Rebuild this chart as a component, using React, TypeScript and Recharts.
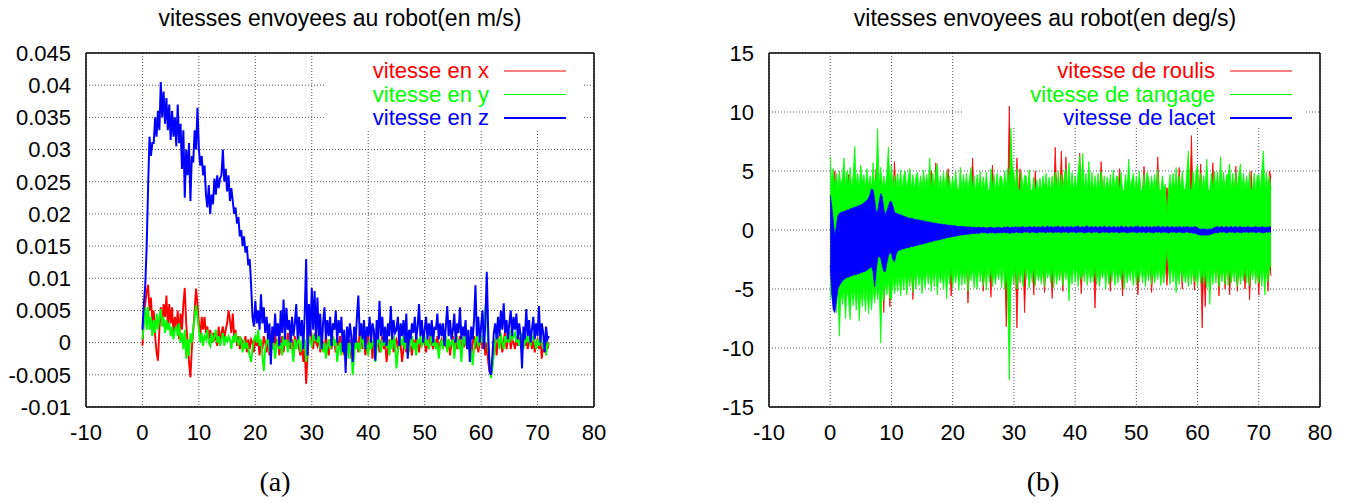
import React from 'react';
import { ComposedChart, Line, Area, XAxis, YAxis, CartesianGrid, ReferenceArea } from 'recharts';

// sampling period of the recordings (s)
const DT = 0.25;

const X_TICKS = [-10, 0, 10, 20, 30, 40, 50, 60, 70, 80];
const Y_TICKS_LIN = [-0.01, -0.005, 0, 0.005, 0.01, 0.015, 0.02, 0.025, 0.03, 0.035, 0.04, 0.045];
const Y_TICKS_ANG = [-15, -10, -5, 0, 5, 10, 15];

const TITLE_LIN = 'vitesses envoyees au robot(en m/s)';
const TITLE_ANG = 'vitesses envoyees au robot(en deg/s)';
const LABELS_LIN = ['vitesse en x', 'vitesse en y', 'vitesse en z'];
const LABELS_ANG = ['vitesse de roulis', 'vitesse de tangage', 'vitesse de lacet'];
const COLORS = ['#ff0000', '#00ff00', '#0000ff'];

// (a) linear speeds, in mm/s (converted to m/s below)
const VITESSE_X_MM = [
  -0.5, 4, 6, 8, 9, 5, 7, 3, 5, 1, -1.5, -2.8, 2, 5.5, 3, 6, 4, 7.3, 2.5, 6, 3, 5.5, 1, 4, 2, 5, 0.5, 4.5,
  2, 6, 8.5, 3, 0, -3, -5.4, -1, 2, 5, 8.4, 6, 3, 1, 4, 2, 4, 1.5, 2.5, 0.5, 2, 0, 1.5, 0.5,
  1, -0.5, 2.5, 0, 1.5, 2.5, 0.5, 2, 3, 5, 3.5, 1.5, 4.5, 1, 2, -0.5, 1, -1, 0.5, 0, -0.5, 1, -1.5, 0.5,
  -1, 0.5, 0, -1.5, 1, -0.5, 0.5, -2, 0, -1, 1, 0, -1.5, 0.5, -2, 1, 0, -1, 1.5, -0.5, 0.5, -2, 0, 1,
  -1.5, 0.5, -0.5, 1.5, 0, -1, 0.5, -2, 1, -0.5, 0.5, -1, -2, 0, -3, -1, -6.4, -2, 1, 2, 0.5, -1, 1.5, 0,
  -0.5, 1, -1.5, 0.5, 0, -1, 1, -0.5, -2, 0.5, -1, 1, 0, -1.5, 0.5, -0.5, 1, -1, 0, -2, -0.5, 1.5, -1, 0.5,
  -2.5, 0, -1, 1, 0, -1.5, 2, 0.5, -1, 0.5, -2, 0, 1, -1, 0.5, -2.5, 0, 1.5, -0.5, 0.5, -1.5, 0, 1, -1,
  0.5, -3, -1, 0.5, -0.5, 1, -1.5, 0, 0.5, -1, 1, -0.5, -3, -1, 0.5, -1.5, 0, 1, -0.5, -2, 0.5, -1, 1, 0,
  -1.5, 0.5, -0.5, 1, 0, -1.5, 0.5, -1, 1, 0, -1, 0.5, -0.5, 1, -1.5, 0, 0.5, -1, 1, -0.5, -1, 0.5, -2, 0,
  1, -0.5, 0.5, -1, 0, 1, -1.5, 0.5, -0.5, 0, 1, -1, 0.5, -2, 0, 1, -1, 0.5, -1.5, 0, 0.5, -1, 1, -2,
  0, -3, -4.5, -5, -3.5, -1, 0.5, -2, 1, -0.5, 0.5, -1.5, 0, 2, -1, 0.5, 1.5, -1, 0.5, 0, -1, 1, -0.5, 0.5,
  0, -1.5, 1, -0.5, 0.5, -1, 0, 1, -1, 0.5, -1.5, 0, 0.5, -1, 1, -2.5, 0, -1.5, 0.5, -1, 0,
];

const VITESSE_Y_MM = [
  0.5, 3, 5.5, 2, 5.6, 2, 4, 1, 3.5, 1.5, 4.5, 2, 4, 5.2, 2.5, 4, 1.5, 3.5, 2, 3, 1, 2.5, 0.5, 2, 2.5, 1, 3, 0,
  1.5, -1, 2, -2.5, 0.5, -2, 1.5, 0, 2, 4, 5.8, 4, 2, 0, 1.5, -0.5, 1, 0.5, 2, 0, -0.5, 1.5, 0, 1,
  2, 0, 1, -0.5, 0.5, 1.5, -0.5, 1, 0, 1, 0.5, -1, 1, 0, 1.5, 0.5, -0.5, 1, 0, -1.5, 0.5, -1, 0, -1,
  -2, -3, -1, 0.5, 1, 0, 2, -0.5, 0.5, -2, -4.4, -1, 0, 1, -1.5, 0.5, -1, 0, -2.5, -0.5, 0.5, -1, 0, -2,
  1, -0.5, 0.5, -1.5, 0, 1, -1, -3, 0.5, -1, 0, 1, -1.5, 0, -0.5, 0.5, -3, -1, 1.5, 0, -0.5, 1, 0.5, 1.5,
  0, 1, -1, 0.5, -1.5, 0, -2.5, -0.5, 0.5, -1, 0, 1, -0.5, 0.5, -3, -1, 0, -2, 0.5, -1, -1.5, 1, -2.5, 0,
  -1, -5, -2, 0.5, -1, 0, -1.5, 1, 0.5, -1, 0, -0.5, -2, 0.5, -1, 0, 0.5, -3, -1, 1, 0, -1.5, 0.5, -0.5,
  1, -0.5, 0, -2, 0.5, -1, 1, 0, -4, -1.5, 0, 0.5, -0.5, 1, -1, 0, 0.5, -1.5, 0, 1, -1, 0, -2, 0.5,
  0, 1, -0.5, 0, 1, -0.5, 0.5, -1, 0, 1.5, -0.5, 0.5, -1, 0, -2.5, -0.5, 0.5, -1, 0, 1, -1.5, 0.5, -0.5, 0,
  0.5, -2.5, 0, 1, -1, 0.5, -3, 0, 1, -0.5, 0.5, -1, 0, -1.5, -3.5, -1, 0.5, 1, -0.5, 0, 1, 0, 2, 5.5,
  6.6, -1, -3, -5.5, -4, -2, 0, 1, 0.5, -1, 1.5, 0, -1, 1, 0, 1.5, 0, 2, 0.5, 1, 1.5, 0, 1, -0.5,
  0.5, 1.5, -1, 0, 1, 0, 1.5, -0.5, 0.5, 1, 0, -1, 0.5, -0.5, 1, 0, -1, 0.5, -2, 0, -0.5,
];

const VITESSE_Z_MM = [
  2, 6, 9, 15, 24, 32, 29, 31, 31, 35, 32, 36, 33, 40.5, 35, 39, 34, 38, 33, 37, 31.5, 36, 32, 35, 30.5, 37, 31, 34,
  27, 33, 22.5, 30, 26, 31, 22, 29, 28, 33, 30, 36.5, 30, 27.5, 29, 26, 27.5, 23, 21, 24.5, 20, 23, 21.5, 25.5,
  23, 26, 24, 25.5, 26, 30, 25, 27, 23.5, 26, 22, 24, 22, 20, 21, 18.5, 19.5, 16.5, 17.5, 15, 16.5, 14, 15, 12,
  13, 9, 4, 2.5, 6.5, 3, 5, 2, 7.5, 3, 5.5, 1.5, 4, 0.5, 3, -3.4, 2.5, 0, 4.5, 1, 3, -0.5, 5, 1.5,
  6.7, 0.5, 5.4, 2, 3.5, 0, 4, 1, 3, 6, 0.5, 4, 1, 3.5, -1, 4.5, 13, -2, 6, 1, 8.5, 2, 8, 0.5,
  7, 1, 4.5, -1, 3, 5.5, 0.5, 3.5, 1, 4, -0.5, 3, 2, 5, 0, 3.5, 1.5, 4, -1.5, 2, -4.7, 2.5, 0, 3,
  1, -3, 2.5, 0, 4, 7.3, 1, 3, 0.5, 3.5, -1, 2.5, 1, 4, 0, 3, 2, -2.8, 3.5, 0.5, 6.5, 1, 4, 0,
  2.5, -0.5, 3, 1, 5.7, 0.5, 3.5, 1.5, 2, 4, -0.5, 3, 1, 3.5, 0, 4.5, -2.5, 2, 0.5, 3, 1.5, 4, 0.5, 2.5,
  6, 1, 3.5, 0, 2, 4, 0.5, 3, 1, 3.5, 0, 2.5, 2, 4.5, 0.5, 3, 1, 3, -0.5, 2.5, 5.7, 1, 3.5, 0.5,
  2, 4.5, 0, 3, 1.5, 5.5, 0.5, 2.5, 1, 3.5, -1, 2, -3, 2.5, 0.5, 3.5, 8.9, 1, 4, 0, 2.5, 5, -1, 3,
  11, 2, -4.5, -5, -2, 1.5, 3, 0.5, 4, 1, 5, 2, 6.1, 1.5, 3.5, 0.5, 3, 5, 1, 4, 2, 4.5, 0.5, 3,
  1, -4, 2.5, 0.5, 5.2, 1, 3.5, 0, 2, 4, 0.5, 3, 1, 5.7, 0, 3, 1.5, -1.5, 2.5, 0.5, 1,
];

// (b) angular speeds (deg/s): envelope of each fast-oscillating signal (high / low)
const ROULIS_HAUT = [
  3.0, 2.8, 3.1, 5.0, 3.0, 2.9, 3.1, 2.8, 3.0, 2.9, 3.1, 3.0, 4.7, 2.9, 3.0, 2.8, 3.1, 2.9, 3.0, 2.8, 3.0, 3.1, 2.9, 3.0, 2.8, 3.0, 3.1, 2.9,
  3.0, 2.8, 5.2, 3.0, 2.9, 3.1, 3.0, 2.8, 3.0, 2.9, 3.1, 3.0, 2.8, 3.0, 5.8, 2.9, 3.0, 3.1, 2.9, 2.8, 3.0, 2.9, 3.1, 3.0,
  2.8, 3.0, 2.9, 3.1, 3.0, 2.8, 3.0, 2.9, 3.1, 3.0, 2.8, 3.0, 2.9, 3.0, 5.0, 2.8, 3.0, 5.7, 2.9, 3.1, 2.8, 3.0, 2.9, 3.1,
  3.0, 5.2, 2.8, 3.0, 2.9, 3.1, 3.0, 2.8, 3.0, 2.9, 3.1, 3.0, 2.8, 3.0, 2.9, 3.1, 3.0, 6.1, 2.9, 2.8, 3.0, 2.9, 3.1, 3.0,
  2.8, 3.0, 2.9, 3.1, 3.0, 2.9, 5.5, 3.0, 2.8, 3.1, 3.0, 2.9, 3.0, 2.8, 3.1, 3.0, 2.9, 10.5, 3.0, 2.8, 3.0, 2.9, 6.1, 3.0,
  5.2, 3.0, 2.9, 3.1, 3.0, 2.8, 3.1, 3.0, 2.9, 3.0, 5.0, 3.1, 3.0, 2.8, 3.0, 2.9, 3.1, 3.0, 2.8, 3.0, 2.9, 3.1, 3.0, 7.0,
  3.0, 2.8, 3.1, 6.7, 3.0, 2.9, 6.2, 3.0, 2.8, 3.0, 2.9, 3.1, 3.0, 2.9, 3.0, 6.5, 2.8, 3.0, 3.1, 2.9, 3.0, 2.8, 3.0, 3.1,
  2.9, 3.0, 2.8, 3.0, 3.1, 5.8, 3.0, 2.9, 3.0, 2.8, 3.1, 3.0, 2.9, 3.0, 2.8, 3.1, 3.0, 5.2, 2.9, 3.0, 2.8, 3.1, 3.0, 2.9,
  3.0, 2.8, 3.1, 3.0, 2.9, 3.0, 2.8, 3.1, 3.0, 5.4, 2.9, 3.0, 2.8, 3.0, 3.1, 2.9, 3.0, 2.9, 6.2, 3.0, 2.8, 3.1, 3.0, 2.9,
  3.6, 2.9, 3.0, 2.8, 3.0, 2.9, 3.1, 3.0, 5.3, 2.8, 3.0, 2.9, 3.1, 3.0, 2.9, 3.0, 8.0, 2.8, 3.0, 3.1, 2.9, 3.0, 5.6, 2.8,
  3.0, 2.9, 3.1, 3.0, 2.8, 3.0, 5.7, 2.9, 3.0, 3.1, 2.8, 3.0, 2.9, 3.0, 3.1, 2.8, 3.0, 2.9, 3.0, 3.1, 2.8, 5.4, 2.9, 3.0,
  3.0, 2.8, 3.1, 2.9, 3.0, 2.9, 3.0, 5.0, 2.8, 3.0, 3.1, 2.9, 3.0, 2.8, 3.0, 2.9, 3.1, 3.0, 2.9, 5.0, 4.5,
];

const ROULIS_BAS = [
  -3.0, -2.8, -3.1, -2.9, -3.0, -2.9, -2.8, -3.1, -2.9, -3.0, -2.8, -3.0, -3.1, -2.9, -3.0, -2.8, -3.0, -2.9, -3.1, -3.0, -2.8, -3.0, -2.9, -3.1, -3.0, -2.8, -3.0, -2.9,
  -3.1, -3.0, -2.8, -3.0, -2.9, -3.1, -3.0, -7.0, -3.0, -2.9, -2.8, -6.5, -3.0, -2.9, -3.1, -3.0, -2.8, -3.0, -2.9, -3.1, -3.0, -2.8, -3.0, -2.9,
  -3.1, -3.0, -5.9, -2.9, -2.8, -3.0, -2.9, -3.0, -3.1, -2.9, -3.0, -2.8, -3.0, -2.9, -3.1, -3.0, -2.8, -3.0, -2.9, -3.0, -3.1, -2.9, -3.0, -2.8,
  -3.0, -2.9, -2.8, -5.6, -3.0, -2.9, -3.0, -2.8, -2.9, -3.0, -2.8, -2.9, -2.8, -2.9, -6.2, -2.9, -2.9, -2.8, -3.0, -2.9, -2.9, -2.8, -2.9, -2.8,
  -5.2, -2.9, -2.8, -2.9, -2.9, -5.7, -2.8, -2.9, -2.8, -2.9, -2.8, -2.9, -2.8, -2.9, -2.8, -8.2, -2.9, -2.8, -2.9, -2.8, -2.9, -2.8, -8.3, -2.9,
  -2.8, -2.9, -2.8, -7.0, -2.9, -2.8, -2.9, -2.8, -2.8, -5.5, -2.9, -2.8, -2.9, -2.8, -2.9, -2.8, -5.3, -2.9, -2.8, -2.9, -2.8, -5.8, -2.9, -2.8,
  -2.9, -2.8, -2.9, -2.8, -5.2, -2.9, -2.8, -2.9, -2.8, -2.9, -2.8, -2.9, -2.8, -2.9, -2.8, -2.9, -5.4, -2.8, -2.9, -2.8, -2.9, -2.8, -2.9, -2.8,
  -2.9, -6.6, -2.8, -2.9, -2.8, -2.9, -2.8, -2.9, -2.8, -2.9, -2.8, -5.2, -2.9, -2.8, -2.9, -2.8, -2.9, -2.8, -2.9, -5.6, -2.8, -2.9, -2.8, -2.9,
  -2.8, -2.9, -2.8, -2.9, -2.8, -5.5, -2.9, -2.8, -2.9, -2.8, -2.9, -2.8, -2.9, -2.8, -5.3, -2.9, -2.8, -2.9, -2.8, -2.9, -2.8, -2.9, -2.8, -2.9,
  -4.7, -2.9, -2.8, -2.9, -2.8, -2.9, -2.8, -2.9, -2.8, -2.9, -5.0, -2.8, -2.9, -2.8, -2.9, -2.8, -2.9, -2.8, -5.1, -2.9, -2.8, -2.9, -2.8, -8.3,
  -2.9, -6.5, -2.8, -2.9, -2.8, -2.9, -2.8, -2.9, -2.8, -2.9, -5.6, -2.8, -2.9, -2.8, -5.0, -2.9, -2.8, -5.5, -2.9, -2.8, -2.9, -2.8, -5.2, -2.9,
  -2.8, -2.9, -2.8, -5.0, -2.9, -2.8, -5.9, -2.9, -2.8, -2.9, -2.8, -2.9, -5.5, -2.8, -2.9, -2.8, -2.9, -2.8, -5.2, -2.9, -3.9,
];

const TANGAGE_HAUT = [
  6.2, 3.8, 5.2, 3.6, 4.8, 3.5, 5.0, 3.7, 4.5, 6.1, 3.6, 5.0, 3.8, 5.3, 3.5, 4.6, 7.1, 3.7, 4.8, 3.5, 5.5, 3.9, 4.7, 3.6, 5.2, 3.6, 4.6, 3.5,
  5.7, 3.8, 4.5, 8.6, 3.8, 5.3, 3.5, 4.6, 3.6, 4.7, 7.0, 3.8, 5.5, 3.6, 4.6, 3.5, 4.8, 3.6, 5.1, 3.4, 4.6, 5.0, 3.4, 4.5,
  5.2, 3.5, 4.7, 3.4, 4.5, 4.9, 3.4, 4.6, 3.5, 5.1, 3.6, 4.7, 3.6, 6.1, 3.4, 4.8, 3.5, 5.0, 5.6, 3.4, 4.6, 3.4, 4.9, 3.5,
  5.0, 3.4, 4.6, 3.3, 4.5, 3.4, 5.0, 3.5, 3.4, 5.3, 3.3, 4.7, 3.5, 4.8, 3.3, 4.5, 5.3, 3.4, 4.6, 3.3, 4.7, 3.5, 5.0, 3.3,
  4.5, 3.4, 4.9, 3.3, 3.4, 5.2, 3.5, 4.7, 3.3, 4.8, 3.4, 4.6, 4.5, 3.4, 5.0, 3.5, 5.2, 3.6, 8.6, 5.4, 4.8, 3.5, 5.2, 3.4,
  3.4, 4.9, 3.3, 4.6, 4.6, 3.3, 5.1, 3.4, 3.3, 4.5, 3.2, 4.2, 3.2, 4.4, 3.3, 4.6, 3.4, 4.8, 3.3, 4.5, 3.3, 4.6, 3.4, 4.9,
  3.4, 5.0, 3.3, 4.7, 3.3, 4.8, 5.2, 3.4, 5.7, 3.4, 4.9, 3.3, 4.6, 3.4, 5.0, 6.3, 3.5, 6.5, 3.3, 4.8, 3.4, 5.8, 3.3, 4.9,
  3.3, 4.6, 3.4, 4.8, 3.4, 5.0, 3.3, 4.6, 3.2, 4.5, 3.4, 4.7, 3.3, 5.1, 3.4, 4.6, 4.5, 3.3, 4.9, 3.4, 3.3, 4.7, 3.4, 6.0,
  3.5, 4.2, 4.8, 3.3, 4.6, 3.3, 5.0, 3.4, 3.3, 4.7, 3.4, 4.9, 4.4, 3.3, 4.6, 3.4, 4.7, 3.3, 5.1, 3.4, 3.3, 4.6, 3.4, 3.9,
  1.2, 3.4, 4.7, 3.3, 4.8, 3.4, 5.3, 3.3, 4.6, 3.4, 5.0, 3.5, 3.4, 4.8, 6.7, 3.5, 3.3, 5.0, 3.4, 4.9, 5.5, 3.4, 4.8, 3.3,
  4.6, 3.5, 6.0, 3.4, 3.3, 4.8, 3.4, 5.0, 3.4, 4.9, 3.3, 6.2, 3.5, 4.9, 3.4, 4.7, 4.6, 5.6, 3.4, 4.8, 3.3, 4.9, 3.5, 4.7,
  5.6, 3.3, 4.8, 3.4, 4.6, 3.4, 4.9, 3.4, 3.5, 4.8, 3.3, 4.6, 4.7, 3.4, 5.0, 6.7, 3.5, 4.9, 3.3, 4.6, 3.4,
];

const TANGAGE_BAS = [
  -5.9, -4.6, -6.2, -4.8, -7.0, -5.0, -9.0, -5.2, -6.3, -4.9, -7.5, -5.1, -6.0, -7.6, -4.8, -6.4, -5.0, -6.8, -4.9, -7.7, -5.1, -6.5, -4.8, -6.9, -4.9, -7.1, -5.0, -6.8,
  -4.8, -6.2, -4.6, -5.9, -4.7, -9.6, -4.5, -6.0, -4.4, -5.5, -4.2, -5.8, -5.9, -4.0, -5.4, -3.9, -5.2, -3.8, -5.6, -3.7, -5.1, -3.6, -5.5, -3.8,
  -4.8, -3.5, -5.3, -3.6, -5.0, -3.4, -4.7, -3.7, -5.4, -3.5, -4.9, -3.3, -4.6, -3.5, -5.2, -3.4, -4.8, -3.2, -5.5, -3.5, -4.5, -3.6, -5.0, -3.3,
  -5.8, -3.4, -4.6, -3.2, -4.9, -3.5, -4.5, -3.1, -5.1, -3.3, -4.7, -3.4, -4.6, -3.0, -5.2, -3.5, -4.3, -3.2, -4.9, -3.4, -5.0, -3.1, -4.4, -3.3,
  -4.7, -3.4, -5.1, -3.0, -4.4, -3.2, -4.8, -3.5, -4.6, -3.3, -4.2, -3.1, -4.9, -3.0, -5.0, -3.4, -6.0, -12.7, -4.8, -3.5, -4.6, -3.1, -5.0, -3.3,
  -4.5, -3.4, -4.8, -3.0, -4.2, -3.2, -4.9, -3.4, -4.5, -3.0, -4.7, -3.3, -4.3, -3.5, -4.6, -3.1, -4.8, -3.2, -4.1, -3.4, -4.5, -3.0, -4.9, -3.3,
  -4.6, -3.4, -4.3, -3.1, -4.7, -3.2, -4.2, -3.3, -6.0, -3.4, -4.6, -3.0, -4.4, -3.1, -4.8, -3.5, -4.2, -3.3, -4.4, -3.0, -4.7, -3.2, -4.5, -3.4,
  -4.4, -3.0, -4.6, -3.3, -4.8, -3.4, -4.1, -3.1, -5.0, -3.2, -4.6, -3.4, -4.4, -3.0, -4.7, -3.3, -4.5, -3.5, -4.2, -3.1, -5.0, -3.2, -4.5, -3.4,
  -4.3, -3.1, -4.7, -3.2, -4.6, -3.4, -4.4, -3.0, -4.5, -3.2, -4.8, -3.3, -4.3, -3.0, -4.6, -3.4, -4.5, -3.3, -4.2, -3.1, -4.7, -3.4, -4.5, -3.2,
  -1.5, -3.3, -4.6, -3.0, -4.4, -3.2, -5.3, -3.4, -4.6, -3.0, -4.4, -3.3, -4.5, -3.4, -4.8, -3.1, -4.6, -3.2, -4.4, -3.5, -4.8, -3.0, -4.5, -3.3,
  -4.6, -3.4, -4.9, -3.1, -6.3, -3.3, -4.6, -3.2, -4.5, -3.0, -4.8, -3.4, -4.4, -3.3, -4.6, -3.1, -4.7, -3.2, -4.5, -3.4, -4.4, -3.0, -4.8, -3.3,
  -4.6, -3.4, -4.3, -3.1, -4.5, -3.2, -4.7, -3.3, -4.2, -3.0, -4.6, -3.4, -4.5, -3.3, -4.8, -3.1, -5.5, -3.3, -4.4, -3.2, -3.0,
];

const LACET_HAUT = [
  2.9, 2.0, 0.7, -0.6, 0.3, 1.2, 1.4, 1.5, 1.5, 1.6, 1.6, 1.7, 1.7, 1.8, 1.8, 1.9, 1.9, 2.0, 2.0, 2.1, 2.1, 2.2, 2.3, 2.4, 2.5, 2.7, 3.0, 3.5,
  3.4, 2.6, 1.5, 1.6, 2.4, 3.1, 2.8, 1.8, 1.3, 1.6, 2.0, 2.4, 2.4, 2.0, 1.5, 1.4, 1.4, 1.3, 1.3, 1.2, 1.2, 1.1, 1.1, 1.0,
  1.0, 1.0, 0.95, 0.9, 0.9, 0.85, 0.85, 0.8, 0.8, 0.75, 0.75, 0.7, 0.7, 0.65, 0.65, 0.6, 0.6, 0.55, 0.55, 0.5, 0.5, 0.5, 0.45, 0.45,
  0.45, 0.4, 0.4, 0.4, 0.35, 0.35, 0.35, 0.3, 0.3, 0.3, 0.3, 0.3, 0.25, 0.25, 0.25, 0.25, 0.25, 0.2, 0.25, 0.2, 0.2, 0.25, 0.2, 0.2,
  0.25, 0.2, 0.15, 0.2, 0.2, 0.25, 0.2, 0.15, 0.2, 0.2, 0.25, 0.2, 0.15, 0.2, 0.25, 0.2, 0.3, 0.2, 0.2, 0.25, 0.2, 0.3, 0.2, 0.25,
  0.2, 0.25, 0.3, 0.2, 0.25, 0.2, 0.3, 0.25, 0.2, 0.3, 0.25, 0.2, 0.3, 0.2, 0.25, 0.3, 0.2, 0.25, 0.35, 0.2, 0.3, 0.25, 0.2, 0.3,
  0.25, 0.35, 0.2, 0.25, 0.3, 0.2, 0.25, 0.3, 0.2, 0.3, 0.25, 0.2, 0.3, 0.25, 0.35, 0.2, 0.25, 0.3, 0.2, 0.3, 0.35, 0.2, 0.25, 0.3,
  0.2, 0.3, 0.25, 0.2, 0.3, 0.25, 0.2, 0.35, 0.25, 0.2, 0.3, 0.25, 0.2, 0.3, 0.25, 0.2, 0.3, 0.2, 0.35, 0.25, 0.2, 0.3, 0.25, 0.2,
  0.3, 0.25, 0.2, 0.3, 0.25, 0.35, 0.2, 0.25, 0.3, 0.2, 0.25, 0.3, 0.2, 0.3, 0.2, 0.25, 0.3, 0.2, 0.35, 0.25, 0.2, 0.3, 0.25, 0.2,
  0.3, 0.25, 0.2, 0.3, 0.25, 0.2, 0.3, 0.2, 0.3, 0.25, 0.2, 0.3, 0.2, 0.3, 0.25, 0.2, 0.25, 0.2, 0.3, 0.25, 0.2, 0.1, 0.05, 0.1,
  0.05, 0.1, 0.0, 0.05, 0.1, 0.05, 0.15, 0.2, 0.25, 0.3, 0.2, 0.25, 0.3, 0.2, 0.25, 0.3, 0.2, 0.25, 0.3, 0.2, 0.25, 0.3, 0.2, 0.25,
  0.3, 0.2, 0.25, 0.2, 0.25, 0.3, 0.2, 0.25, 0.2, 0.25, 0.3, 0.2, 0.25, 0.2, 0.3, 0.25, 0.2, 0.25, 0.2, 0.3, 0.2,
];

const LACET_BAS = [
  -3.0, -5.5, -6.8, -7.0, -6.0, -5.0, -4.7, -4.5, -4.3, -4.2, -4.1, -4.0, -4.0, -3.9, -3.9, -3.8, -3.8, -3.8, -3.7, -3.7, -3.6, -3.6, -3.5, -3.5, -3.4, -3.3, -3.2, -3.1,
  -3.5, -4.8, -3.5, -2.4, -2.2, -2.4, -3.0, -3.5, -3.5, -2.8, -2.2, -1.9, -2.0, -2.5, -2.7, -2.1, -1.8, -1.7, -1.7, -1.6, -1.6, -1.55, -1.5, -1.5,
  -1.45, -1.4, -1.4, -1.35, -1.3, -1.3, -1.25, -1.2, -1.2, -1.15, -1.1, -1.1, -1.05, -1.0, -1.0, -0.95, -0.9, -0.9, -0.85, -0.85, -0.8, -0.75, -0.75, -0.7,
  -0.65, -0.65, -0.6, -0.6, -0.55, -0.55, -0.5, -0.5, -0.45, -0.45, -0.4, -0.4, -0.4, -0.35, -0.35, -0.35, -0.3, -0.3, -0.3, -0.3, -0.25, -0.3, -0.25, -0.2,
  -0.25, -0.2, -0.25, -0.3, -0.2, -0.25, -0.2, -0.25, -0.3, -0.2, -0.25, -0.2, -0.25, -0.2, -0.2, -0.25, -0.2, -0.3, -0.25, -0.2, -0.25, -0.2, -0.15, -0.25,
  -0.2, -0.25, -0.2, -0.15, -0.2, -0.15, -0.25, -0.2, -0.15, -0.2, -0.2, -0.25, -0.2, -0.15, -0.2, -0.15, -0.2, -0.25, -0.15, -0.2, -0.15, -0.2, -0.25, -0.15,
  -0.2, -0.15, -0.2, -0.25, -0.15, -0.2, -0.15, -0.2, -0.25, -0.15, -0.2, -0.15, -0.2, -0.25, -0.15, -0.2, -0.15, -0.2, -0.25, -0.2, -0.2, -0.15, -0.2, -0.25,
  -0.15, -0.2, -0.15, -0.2, -0.25, -0.2, -0.15, -0.2, -0.2, -0.15, -0.25, -0.2, -0.15, -0.2, -0.2, -0.15, -0.2, -0.25, -0.15, -0.2, -0.15, -0.2, -0.25, -0.2,
  -0.2, -0.15, -0.2, -0.15, -0.25, -0.2, -0.15, -0.2, -0.2, -0.15, -0.25, -0.2, -0.15, -0.2, -0.2, -0.25, -0.2, -0.15, -0.2, -0.15, -0.25, -0.2, -0.15, -0.2,
  -0.2, -0.25, -0.2, -0.15, -0.2, -0.15, -0.25, -0.2, -0.15, -0.2, -0.2, -0.25, -0.2, -0.15, -0.2, -0.25, -0.2, -0.3, -0.25, -0.3, -0.35, -0.4, -0.45, -0.4,
  -0.45, -0.4, -0.45, -0.4, -0.4, -0.35, -0.3, -0.25, -0.2, -0.25, -0.2, -0.15, -0.2, -0.15, -0.2, -0.25, -0.2, -0.15, -0.2, -0.15, -0.25, -0.2, -0.15, -0.2,
  -0.2, -0.25, -0.15, -0.2, -0.15, -0.2, -0.2, -0.15, -0.2, -0.15, -0.25, -0.2, -0.15, -0.2, -0.2, -0.25, -0.2, -0.15, -0.2, -0.15, -0.2,
];

const linData = VITESSE_Z_MM.map((_, i) => ({
  t: i * DT,
  vx: VITESSE_X_MM[i] / 1000,
  vy: VITESSE_Y_MM[i] / 1000,
  vz: VITESSE_Z_MM[i] / 1000,
}));

const angData = TANGAGE_HAUT.map((_, i) => ({
  t: i * DT,
  roulis: [ROULIS_BAS[i], ROULIS_HAUT[i]],
  tangage: [TANGAGE_BAS[i], TANGAGE_HAUT[i]],
  lacet: [LACET_BAS[i], LACET_HAUT[i]],
}));

const SANS = '"Liberation Sans", Arial, Helvetica, sans-serif';
const TICK_STYLE = { fontSize: 22, fill: '#000', fontFamily: SANS };
const FRAME = { stroke: '#000', strokeWidth: 1.5 };

function frameAxes(xDomain: number[], yDomain: number[], yTicks: number[]) {
  return [
    <XAxis key="xb" xAxisId="xb" type="number" dataKey="t" domain={xDomain} ticks={X_TICKS} mirror tick={false} tickSize={5} axisLine={FRAME} tickLine={{ stroke: '#000' }} />,
    <XAxis key="xt" xAxisId="xt" orientation="top" type="number" dataKey="t" domain={xDomain} ticks={X_TICKS} mirror tick={false} tickSize={5} axisLine={FRAME} tickLine={{ stroke: '#000' }} />,
    <YAxis key="yl" yAxisId="yl" type="number" domain={yDomain} ticks={yTicks} mirror tick={false} tickSize={5} axisLine={FRAME} tickLine={{ stroke: '#000' }} />,
    <YAxis key="yr" yAxisId="yr" orientation="right" type="number" domain={yDomain} ticks={yTicks} mirror tick={false} tickSize={5} axisLine={FRAME} tickLine={{ stroke: '#000' }} />,
  ];
}

export default function App() {
  return (
    <div style={{ position: 'absolute', left: 0, top: 0, width: 1356, height: 503, background: '#fff', overflow: 'hidden' }}>
      <div style={{ position: 'absolute', left: 0, top: 0 }}>
        <ComposedChart width={678} height={503} data={linData} margin={{ top: 53, right: 84, bottom: 66, left: 6 }}>
          <CartesianGrid xAxisId="x" yAxisId="y" stroke="#555" strokeDasharray="1 2" />
          <XAxis xAxisId="x" type="number" dataKey="t" domain={[-10, 80]} ticks={X_TICKS} interval={0} tickLine={false} axisLine={false} tickSize={0} tickMargin={17} height={30} tick={TICK_STYLE} />
          <YAxis yAxisId="y" type="number" domain={[-0.01, 0.045]} ticks={Y_TICKS_LIN} interval={0} tickLine={false} axisLine={false} tickSize={0} tickMargin={15} width={80} tick={TICK_STYLE} />
          {frameAxes([-10, 80], [-0.01, 0.045], Y_TICKS_LIN)}
          <ReferenceArea xAxisId="x" yAxisId="y" x1={32.2} x2={78.2} y1={0.0331} y2={0.045} fill="#fff" fillOpacity={1} stroke="none" />
          <Line xAxisId="x" yAxisId="y" dataKey="vx" stroke={COLORS[0]} strokeWidth={1.9} dot={false} activeDot={false} isAnimationActive={false} type="linear" />
          <Line xAxisId="x" yAxisId="y" dataKey="vy" stroke={COLORS[1]} strokeWidth={1.9} dot={false} activeDot={false} isAnimationActive={false} type="linear" />
          <Line xAxisId="x" yAxisId="y" dataKey="vz" stroke={COLORS[2]} strokeWidth={2} dot={false} activeDot={false} isAnimationActive={false} type="linear" />
        </ComposedChart>
      </div>
      <div style={{ position: 'absolute', left: 678, top: 0 }}>
        <ComposedChart width={678} height={503} data={angData} margin={{ top: 53, right: 36, bottom: 66, left: 11 }}>
          <CartesianGrid xAxisId="x" yAxisId="y" stroke="#555" strokeDasharray="1 2" />
          <XAxis xAxisId="x" type="number" dataKey="t" domain={[-10, 80]} ticks={X_TICKS} interval={0} tickLine={false} axisLine={false} tickSize={0} tickMargin={17} height={30} tick={TICK_STYLE} />
          <YAxis yAxisId="y" type="number" domain={[-15, 15]} ticks={Y_TICKS_ANG} interval={0} tickLine={false} axisLine={false} tickSize={0} tickMargin={15} width={80} tick={TICK_STYLE} />
          {frameAxes([-10, 80], [-15, 15], Y_TICKS_ANG)}
          <ReferenceArea xAxisId="x" yAxisId="y" x1={21.6} x2={77.6} y1={8.7} y2={15} fill="#fff" fillOpacity={1} stroke="none" />
          <Area xAxisId="x" yAxisId="y" dataKey="roulis" type="linear" stroke={COLORS[0]} strokeWidth={0.8} fill={COLORS[0]} fillOpacity={1} dot={false} activeDot={false} isAnimationActive={false} />
          <Area xAxisId="x" yAxisId="y" dataKey="tangage" type="linear" stroke={COLORS[1]} strokeWidth={0.8} fill={COLORS[1]} fillOpacity={1} dot={false} activeDot={false} isAnimationActive={false} />
          <Area xAxisId="x" yAxisId="y" dataKey="lacet" type="linear" stroke={COLORS[2]} strokeWidth={0.8} fill={COLORS[2]} fillOpacity={1} dot={false} activeDot={false} isAnimationActive={false} />
        </ComposedChart>
      </div>
      <svg width={1356} height={503} style={{ position: 'absolute', left: 0, top: 0, pointerEvents: 'none' }}>
        <text x={340} y={26} textAnchor="middle" fontSize={23} fontFamily={SANS} fill="#000">{TITLE_LIN}</text>
        <text x={1045} y={26} textAnchor="middle" fontSize={23} fontFamily={SANS} fill="#000">{TITLE_ANG}</text>
        {LABELS_LIN.map((lab, i) => (
          <g key={lab}>
            <text x={489} y={78.3 + i * 23.5} textAnchor="end" fontSize={22} fontFamily={SANS} fill={COLORS[i]}>{lab}</text>
            <line x1={504} x2={566} y1={71 + i * 23.5} y2={71 + i * 23.5} stroke={COLORS[i]} strokeWidth={i === 2 ? 2 : 1} />
          </g>
        ))}
        {LABELS_ANG.map((lab, i) => (
          <g key={lab}>
            <text x={1215} y={78.3 + i * 23.5} textAnchor="end" fontSize={22} fontFamily={SANS} fill={COLORS[i]}>{lab}</text>
            <line x1={1230} x2={1292} y1={71 + i * 23.5} y2={71 + i * 23.5} stroke={COLORS[i]} strokeWidth={i === 2 ? 2 : 1} />
          </g>
        ))}
        <text x={275} y={491} textAnchor="middle" fontSize={28} fontFamily='"Liberation Serif", "Times New Roman", serif' fill="#000">(a)</text>
        <text x={1043} y={491} textAnchor="middle" fontSize={28} fontFamily='"Liberation Serif", "Times New Roman", serif' fill="#000">(b)</text>
      </svg>
    </div>
  );
}
